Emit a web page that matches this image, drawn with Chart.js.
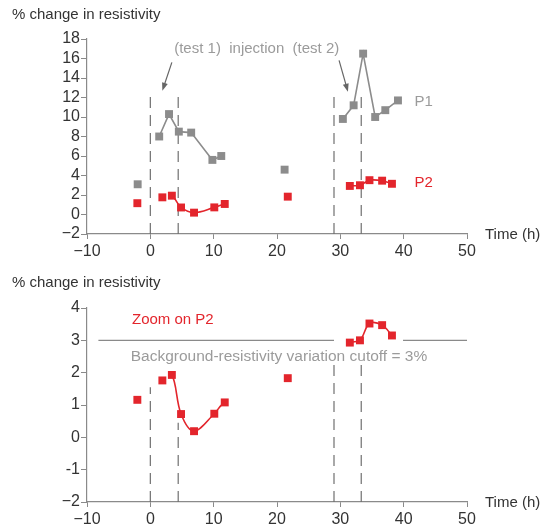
<!DOCTYPE html>
<html>
<head>
<meta charset="utf-8">
<script src="https://cdn.jsdelivr.net/npm/chart.js@4.4.1/dist/chart.umd.min.js"></script>
<style>
	body { margin: 0; background: #fff; }
	#wrap { position: relative; width: 544px; height: 525px; }
	canvas { position: absolute; left: 0; }
</style>
</head>
<body>
<div id="wrap">
	<canvas id="topChart" width="544" height="260" style="top:0"></canvas>
	<canvas id="zoomChart" width="544" height="265" style="top:260px"></canvas>
</div>
<script>
// P1 (grey) readings, top panel
const p1Hours = [-2, 1.4, 2.95, 4.5, 6.45, 9.8, 11.2, 21.2, 30.4, 32.1, 33.6, 35.5, 37.1, 39.1];
const p1Change = [3.1, 8.0, 10.3, 8.5, 8.4, 5.6, 6.0, 4.6, 9.8, 11.2, 16.5, 10.0, 10.7, 11.7];
const p1Breaks = [0, 6, 7]; // no line after these points

// P2 (red) readings, both panels
const p2Hours = [-2.05, 1.9, 3.4, 4.85, 6.9, 10.1, 11.75, 21.7, 31.5, 33.1, 34.6, 36.6, 38.15];
const p2Change = [1.16, 1.76, 1.93, 0.72, 0.19, 0.73, 1.08, 1.83, 2.93, 3.0, 3.52, 3.47, 3.15];
const p2Breaks = [0, 1, 6, 7];

// injection start / end times (h)
const injectionHours = [0, 4.4, 29, 33.3];
const zoomDashTop = [1.55, 0.45, 2.25, 2.25];

const cutoffPct = 3;
const cutoffRuns = [[-8.2, 29], [39.9, 50]];

const xTicks = [-10, 0, 10, 20, 30, 40, 50];
const topYTicks = [-2, 0, 2, 4, 6, 8, 10, 12, 14, 16, 18];
const zoomYTicks = [-2, -1, 0, 1, 2, 3, 4];

const GREY = "#8c8c8c";
const GREY_TEXT = "#9b9b9b";
const RED = "#e3252c";
const AXIS = "#8a8a8a";
const FONT = "'Liberation Sans', Arial, sans-serif";

Chart.defaults.font.family = FONT;
Chart.defaults.color = "#333";

function minus(v) {
	return v < 0 ? "\u2212" + Math.abs(v) : String(v);
}

function pts(xs, ys) {
	return xs.map((x, i) => ({ x: x, y: ys[i] }));
}

function series(xs, ys, breaks, color, tension) {
	return {
		data: pts(xs, ys),
		borderColor: color,
		backgroundColor: color,
		borderWidth: 1.6,
		pointStyle: "rect",
		pointRadius: 5.6,
		pointBorderWidth: 0,
		tension: tension,
		segment: {
			borderColor: c => breaks.includes(c.p0DataIndex) ? "rgba(0,0,0,0)" : color
		}
	};
}

function dashLine(h, yTop) {
	return {
		data: [{ x: h, y: -2 }, { x: h, y: yTop }],
		borderColor: "#707070",
		borderWidth: 1.2,
		borderDash: [11, 7],
		pointRadius: 0
	};
}

// text and arrows placed in data coordinates
function notesPlugin(notes, arrows, titleY, timeY) {
	return {
		id: "notes",
		afterDraw(chart) {
			const c = chart.ctx;
			const xs = chart.scales.x, ys = chart.scales.y;
			c.save();
			c.textBaseline = "middle";
			c.font = "15px " + FONT;
			c.fillStyle = "#333";
			c.textAlign = "left";
			c.fillText("% change in resistivity", 12, titleY);
			c.fillText("Time (h)", 485, timeY);
			notes.forEach(n => {
				c.fillStyle = n.color;
				c.textAlign = n.align || "left";
				c.font = (n.size || 15) + "px " + FONT;
				c.fillText(n.text, xs.getPixelForValue(n.x), ys.getPixelForValue(n.y));
			});
			arrows.forEach(a => {
				const x0 = xs.getPixelForValue(a[0]), y0 = ys.getPixelForValue(a[1]);
				const x1 = xs.getPixelForValue(a[2]), y1 = ys.getPixelForValue(a[3]);
				const ang = Math.atan2(y1 - y0, x1 - x0);
				c.strokeStyle = "#666";
				c.fillStyle = "#666";
				c.lineWidth = 1.2;
				c.beginPath();
				c.moveTo(x0, y0);
				c.lineTo(x1 - 6 * Math.cos(ang), y1 - 6 * Math.sin(ang));
				c.stroke();
				c.beginPath();
				c.moveTo(x1, y1);
				c.lineTo(x1 - 8 * Math.cos(ang) + 3 * Math.sin(ang), y1 - 8 * Math.sin(ang) - 3 * Math.cos(ang));
				c.lineTo(x1 - 8 * Math.cos(ang) - 3 * Math.sin(ang), y1 - 8 * Math.sin(ang) + 3 * Math.cos(ang));
				c.closePath();
				c.fill();
			});
			c.restore();
		}
	};
}

function axes(yMin, yMax, yTicks, xHeight, yLabel) {
	return {
		x: {
			type: "linear",
			min: -10, max: 50,
			afterBuildTicks: s => { s.ticks = xTicks.map(v => ({ value: v })); },
			afterFit: s => { s.height = xHeight; },
			border: { color: AXIS, width: 1.2 },
			grid: { drawOnChartArea: false, color: AXIS, tickLength: 5 },
			ticks: { font: { size: 16 }, padding: 3, autoSkip: false, maxRotation: 0, callback: v => minus(v) }
		},
		y: {
			min: yMin, max: yMax,
			afterBuildTicks: s => { s.ticks = yTicks.map(v => ({ value: v })); },
			afterFit: s => { s.width = 87; },
			border: { color: AXIS, width: 1.2 },
			grid: { drawOnChartArea: false, color: AXIS, tickLength: 6 },
			ticks: { font: { size: 16 }, padding: 1, autoSkip: false, callback: yLabel }
		}
	};
}

const common = {
	responsive: false,
	animation: false,
	events: [],
	plugins: { legend: { display: false }, tooltip: { enabled: false } }
};

new Chart(document.getElementById("topChart"), {
	type: "line",
	data: {
		datasets: [
			series(p2Hours, p2Change, p2Breaks, RED, 0.35),
			series(p1Hours, p1Change, p1Breaks, GREY, 0),
			...injectionHours.map(h => dashLine(h, 12.5))
		]
	},
	options: {
		...common,
		layout: { padding: { top: 39, right: 77, left: 0, bottom: 0 } },
		scales: axes(-2, 18, topYTicks, 26, v => minus(v))
	},
	plugins: [notesPlugin(
		[
			{ text: "(test 1)  injection  (test 2)", x: 16.8, y: 17.0, color: GREY_TEXT, align: "center" },
			{ text: "P1", x: 41.7, y: 11.6, color: GREY_TEXT },
			{ text: "P2", x: 41.7, y: 3.2, color: RED }
		],
		[[3.4, 15.6, 1.9, 12.7], [29.8, 15.8, 31.2, 12.6]],
		15, 235
	)]
});

new Chart(document.getElementById("zoomChart"), {
	type: "line",
	data: {
		datasets: [
			series(p2Hours, p2Change, p2Breaks, RED, 0.35),
			...cutoffRuns.map(r => ({
				data: r.map(h => ({ x: h, y: cutoffPct })),
				borderColor: AXIS, borderWidth: 1.1, pointRadius: 0
			})),
			...injectionHours.map((h, i) => dashLine(h, zoomDashTop[i]))
		]
	},
	options: {
		...common,
		layout: { padding: { top: 48, right: 77, left: 0, bottom: 0 } },
		scales: axes(-2, 4, zoomYTicks, 23, v => v === -1 ? "-1" : minus(v))
	},
	plugins: [notesPlugin(
		[
			{ text: "Zoom on P2", x: -2.9, y: 3.62, color: RED },
			{ text: "Background-resistivity variation cutoff = 3%", x: -3.1, y: 2.48, color: GREY_TEXT, size: 15.5 }
		],
		[],
		23, 243
	)]
});
</script>
</body>
</html>
